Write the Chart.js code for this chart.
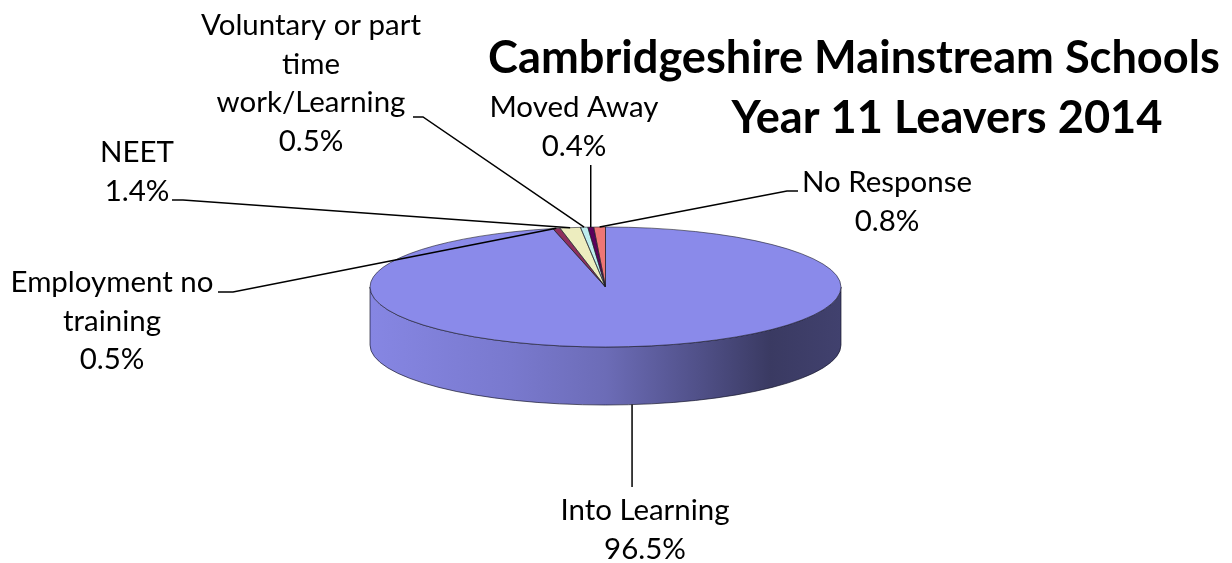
<!DOCTYPE html>
<html><head><meta charset="utf-8">
<script src="https://cdn.jsdelivr.net/npm/chart.js@4.4.0/dist/chart.umd.min.js"></script>
<style>html,body{margin:0;padding:0;background:#fff;}#wrap{position:relative;width:1232px;height:563px;}</style>
</head><body><div id="wrap"><canvas id="c"></canvas></div>
<script>
// ---- data ----
const categories = ['Into Learning','Employment no training','NEET','Voluntary or part time work/Learning','Moved Away','No Response'];
const values = [96.5, 0.5, 1.4, 0.5, 0.4, 0.8];
const valueLabels = ['96.5%','0.5%','1.4%','0.5%','0.4%','0.8%'];
const labelLines = [['Into Learning'],['Employment no','training'],['NEET'],['Voluntary or part','time','work/Learning'],['Moved Away'],['No Response']];
const titleLines = ['Cambridgeshire Mainstream Schools','Year 11 Leavers 2014'];

// ---- style / layout ----
const colors = ['#8A8AEA','#8E2E5E','#EDEDBF','#BDEDEE','#5C005C','#EE7676'];
const FLAT = 0.2548;   // vertical squash of the pie
const DEPTH = 58;      // 3D thickness
const FONT = 'Lato, "Open Sans", sans-serif';
const LINE_H = 38.5;
const labelLayout = [
  {x:645, y:520, pts:[[null,487]], bottom:true},
  {x:112, y:292, pts:[[218,292],[233,292]]},
  {x:137, y:162, pts:[[172,200],[183,200]]},
  {x:311, y:35,  pts:[[413,117],[423,117]]},
  {x:574, y:117, pts:[[null,165]]},
  {x:887, y:192, pts:[[798,191],[787,191]]}
];
const titleLayout = [{x:854, y:73}, {x:947, y:133}];
const sideStops = [[0,0.97],[0.3,0.88],[0.5,0.78],[0.7,0.58],[0.85,0.42],[1,0.47]];

function hexRgb(h){const n=parseInt(h.slice(1),16);return [(n>>16)&255,(n>>8)&255,n&255];}
function shade(h,f){const c=hexRgb(h);return `rgb(${c.map(v=>Math.round(v*f)).join(',')})`;}
function fitSize(ctx,text,target,weight){ctx.font=`${weight} 100px ${FONT}`;return 100*target/ctx.measureText(text).width;}

const pie3d = {
  id:'pie3d',
  beforeDatasetsDraw(chart){
    const ctx = chart.ctx;
    const arcs = chart.getDatasetMeta(0).data;
    const {x:cx, y:cy, outerRadius:r} = arcs[0];
    const ry = r*FLAT;
    // side faces
    arcs.forEach((a,i)=>{
      const ranges = [[0,Math.PI],[2*Math.PI,3*Math.PI],[-2*Math.PI,-Math.PI]];
      ranges.forEach(([lo,hi])=>{
        const a1=Math.max(lo,a.startAngle), a2=Math.min(hi,a.endAngle);
        if (a2<=a1) return;
        const g = ctx.createLinearGradient(cx-r,0,cx+r,0);
        sideStops.forEach(([p,f])=>g.addColorStop(p,shade(colors[i],f)));
        ctx.save();
        ctx.beginPath();
        ctx.ellipse(cx,cy,r,ry,0,a1,a2,false);
        ctx.ellipse(cx,cy+DEPTH,r,ry,0,a2,a1,true);
        ctx.closePath();
        ctx.fillStyle=g; ctx.fill();
        ctx.lineWidth=0.8; ctx.strokeStyle='rgba(20,20,40,0.85)'; ctx.stroke();
        ctx.restore();
      });
    });
    ctx.save();
    ctx.translate(cx,cy); ctx.scale(1,FLAT); ctx.translate(-cx,-cy);
  },
  afterDatasetsDraw(chart){
    const ctx = chart.ctx;
    ctx.restore();
    const arcs = chart.getDatasetMeta(0).data;
    const {x:cx, y:cy, outerRadius:r} = arcs[0];
    const ry = r*FLAT;
    // slice outlines on the top face
    ctx.save();
    ctx.lineWidth=0.8; ctx.strokeStyle='rgba(30,30,40,0.75)';
    arcs.forEach(a=>{
      ctx.beginPath();
      ctx.moveTo(cx,cy);
      ctx.lineTo(cx+r*Math.cos(a.startAngle), cy+ry*Math.sin(a.startAngle));
      ctx.ellipse(cx,cy,r,ry,0,a.startAngle,a.endAngle,false);
      ctx.closePath();
      ctx.stroke();
    });
    ctx.restore();
    // leader lines
    ctx.save();
    ctx.lineWidth=1.5; ctx.strokeStyle='#000';
    arcs.forEach((a,i)=>{
      const L = labelLayout[i];
      const m = (a.startAngle+a.endAngle)/2;
      const ex = cx + r*Math.cos(m);
      const ey = cy + ry*Math.sin(m) + (L.bottom?DEPTH:0);
      ctx.beginPath();
      L.pts.forEach((p,k)=>{
        const px = p[0]===null?ex:p[0];
        if(k===0) ctx.moveTo(px,p[1]); else ctx.lineTo(px,p[1]);
      });
      ctx.lineTo(ex,ey);
      ctx.stroke();
    });
    ctx.restore();
    // labels
    const ls = fitSize(ctx,'Employment no',203,'400');
    ctx.save();
    ctx.fillStyle='#000'; ctx.textAlign='center'; ctx.textBaseline='alphabetic';
    ctx.font = `400 ${ls}px ${FONT}`;
    labelLines.forEach((lines,i)=>{
      const L=labelLayout[i];
      const all = lines.concat([valueLabels[i]]);
      all.forEach((t,k)=>ctx.fillText(t,L.x,L.y+k*LINE_H));
    });
    // title
    const ts = fitSize(ctx,titleLines[0],732,'700');
    ctx.font = `700 ${ts}px ${FONT}`;
    titleLines.forEach((t,k)=>ctx.fillText(t,titleLayout[k].x,titleLayout[k].y));
    ctx.restore();
  }
};

new Chart(document.getElementById('c'),{
  type:'pie',
  data:{labels:categories,datasets:[{data:values,backgroundColor:colors,borderWidth:0,clip:false,radius:235.5}]},
  options:{
    responsive:true, maintainAspectRatio:false, animation:false, events:[],
    layout:{padding:{left:0,right:21,top:11,bottom:0}},
    plugins:{legend:{display:false},tooltip:{enabled:false},title:{display:false}}
  },
  plugins:[pie3d]
});
</script></body></html>
